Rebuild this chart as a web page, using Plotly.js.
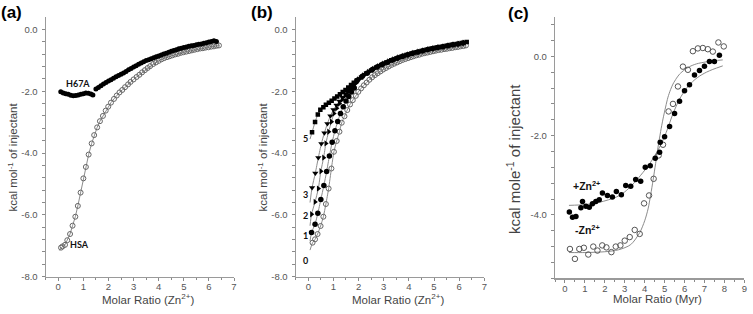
<!DOCTYPE html>
<html>
<head>
<meta charset="utf-8">
<script src="https://cdn.plot.ly/plotly-3.0.1.min.js"></script>
<style>html,body{margin:0;padding:0;background:#fff}#chart{width:753px;height:314px}</style>
</head>
<body>
<div id="chart"></div>
<script>
// ---------- Panel (a) ----------
const hsaX = [0.11,0.17,0.27,0.36,0.47,0.57,0.68,0.78,0.89,1.0,1.1,1.21,1.33,1.43,1.55,1.66,1.78,1.89,1.99,2.1,2.22,2.33,2.44,2.55,2.66,2.78,2.88,3.0,3.12,3.23,3.34,3.45,3.56,3.66,3.78,3.89,4.0,4.11,4.22,4.33,4.44,4.55,4.66,4.77,4.88,4.99,5.1,5.21,5.32,5.43,5.54,5.65,5.76,5.87,5.98,6.09,6.2,6.31,6.4];
const hsaY = [-7.06,-7.02,-6.97,-6.82,-6.62,-6.35,-6.06,-5.71,-5.28,-4.82,-4.45,-4.05,-3.69,-3.42,-3.17,-2.97,-2.8,-2.63,-2.5,-2.37,-2.25,-2.14,-2.04,-1.96,-1.87,-1.78,-1.7,-1.62,-1.54,-1.47,-1.39,-1.32,-1.25,-1.19,-1.12,-1.07,-1.02,-0.97,-0.93,-0.9,-0.87,-0.84,-0.81,-0.79,-0.76,-0.74,-0.72,-0.7,-0.68,-0.66,-0.64,-0.62,-0.61,-0.59,-0.58,-0.56,-0.55,-0.53,-0.52];
const hsaFitStart = [0.05, -7.15];
const h67X = [0.1,0.2,0.3,0.4,0.5,0.6,0.7,0.8,0.9,1.0,1.1,1.2,1.3,1.38,1.5,1.6,1.7,1.8,1.9,2.0,2.1,2.2,2.3,2.4,2.5,2.6,2.7,2.8,2.9,3.0,3.1,3.2,3.3,3.4,3.5,3.6,3.7,3.8,3.9,4.0,4.1,4.2,4.3,4.4,4.5,4.6,4.7,4.8,4.9,5.0,5.1,5.2,5.3,5.4,5.5,5.6,5.7,5.8,5.9,6.0,6.1,6.2,6.3];
const h67Y = [-2.02,-2.06,-2.08,-2.1,-2.13,-2.15,-2.14,-2.12,-2.1,-2.08,-2.06,-2.07,-2.09,-2.12,-1.93,-1.88,-1.82,-1.77,-1.72,-1.67,-1.63,-1.58,-1.53,-1.49,-1.45,-1.41,-1.36,-1.31,-1.27,-1.22,-1.18,-1.13,-1.09,-1.05,-1.01,-0.98,-0.95,-0.92,-0.89,-0.86,-0.83,-0.8,-0.77,-0.74,-0.71,-0.68,-0.66,-0.63,-0.61,-0.59,-0.57,-0.55,-0.53,-0.52,-0.5,-0.48,-0.47,-0.45,-0.43,-0.41,-0.39,-0.37,-0.39];

// ---------- Panel (b) ----------
const b0X = [0.17,0.27,0.37,0.49,0.6,0.7,0.81,0.92,1.02,1.13,1.24,1.33,1.44,1.55,1.66,1.77,1.89,1.99,2.1,2.21,2.32,2.43,2.54,2.65,2.76,2.87,2.98,3.09,3.2,3.31,3.42,3.53,3.64,3.75,3.86,3.97,4.08,4.19,4.3,4.41,4.52,4.63,4.74,4.85,4.96,5.07,5.18,5.29,5.4,5.51,5.62,5.73,5.84,5.95,6.06,6.17,6.27];
const b0Y = [-6.9,-6.79,-6.62,-6.36,-6.06,-5.65,-5.15,-4.5,-3.96,-3.61,-3.31,-3.02,-2.81,-2.61,-2.43,-2.29,-2.15,-2.02,-1.91,-1.81,-1.72,-1.63,-1.55,-1.48,-1.42,-1.36,-1.3,-1.25,-1.2,-1.15,-1.11,-1.07,-1.03,-0.99,-0.96,-0.93,-0.9,-0.87,-0.84,-0.82,-0.79,-0.77,-0.75,-0.73,-0.71,-0.69,-0.67,-0.66,-0.64,-0.63,-0.61,-0.6,-0.58,-0.57,-0.55,-0.54,-0.52];
const b1X = [0.13,0.27,0.38,0.5,0.62,0.73,0.84,0.95,1.06,1.17,1.28,1.39,1.5,1.61,1.72,1.83,1.95,2.15,2.35,2.55,2.75,2.95,3.15,3.35,3.55,3.75,3.95,4.15,4.35,4.55,4.75,4.95,5.15,5.35,5.55,5.75,5.95,6.15];
const b1Y = [-6.57,-6.3,-5.95,-5.5,-5.05,-4.6,-4.1,-3.65,-3.28,-2.98,-2.72,-2.5,-2.32,-2.17,-2.03,-1.9,-1.65,-1.52,-1.41,-1.3,-1.21,-1.13,-1.06,-0.99,-0.93,-0.87,-0.82,-0.77,-0.73,-0.69,-0.65,-0.62,-0.59,-0.56,-0.53,-0.5,-0.47,-0.44];
const b2X = [0.13,0.27,0.4,0.5,0.61,0.7,0.81,0.92,1.02,1.13,1.24,1.35,1.46,1.57,1.68,1.79,1.9,2.0,2.2,2.4,2.6,2.8,3.0,3.2,3.4,3.6,3.8,4.0,4.2,4.4,4.6,4.8,5.0,5.2,5.4,5.6,5.8,6.0,6.2];
const b2Y = [-5.98,-5.58,-5.15,-4.59,-4.15,-3.69,-3.31,-2.99,-2.72,-2.55,-2.4,-2.27,-2.15,-2.04,-1.93,-1.83,-1.74,-1.62,-1.49,-1.38,-1.28,-1.19,-1.11,-1.04,-0.97,-0.91,-0.86,-0.81,-0.76,-0.72,-0.68,-0.64,-0.61,-0.58,-0.55,-0.52,-0.49,-0.46,-0.43];
const b3X = [0.15,0.28,0.4,0.52,0.64,0.76,0.88,1.0,1.12,1.24,1.36,1.48,1.6,1.72,1.84,2.05,2.25,2.45,2.65,2.85,3.05,3.25,3.45,3.65,3.85,4.05,4.25,4.45,4.65,4.85,5.05,5.25,5.45,5.65,5.85,6.05,6.25];
const b3Y = [-5.12,-4.65,-4.15,-3.7,-3.35,-3.05,-2.8,-2.6,-2.45,-2.32,-2.2,-2.08,-1.97,-1.87,-1.77,-1.59,-1.46,-1.35,-1.25,-1.17,-1.09,-1.02,-0.96,-0.9,-0.85,-0.8,-0.75,-0.71,-0.67,-0.63,-0.6,-0.57,-0.54,-0.51,-0.48,-0.45,-0.42];
const b5X = [0.15,0.27,0.38,0.48,0.6,0.7,0.82,0.93,1.04,1.15,1.26,1.37,1.48,1.59,1.7,1.81,1.92,2.1,2.3,2.5,2.7,2.9,3.1,3.3,3.5,3.7,3.9,4.1,4.3,4.5,4.7,4.9,5.1,5.3,5.5,5.7,5.9,6.1,6.3];
const b5Y = [-3.33,-3.0,-2.75,-2.6,-2.52,-2.44,-2.37,-2.31,-2.24,-2.17,-2.1,-2.03,-1.96,-1.88,-1.8,-1.73,-1.66,-1.56,-1.43,-1.33,-1.23,-1.15,-1.07,-1.0,-0.94,-0.89,-0.83,-0.78,-0.74,-0.7,-0.66,-0.62,-0.59,-0.56,-0.53,-0.5,-0.47,-0.44,-0.41];
// start of each fitted line (below first point)
const bFitStartX = [0.07, 0.07, 0.07, 0.07, 0.07];
const bFitStartY = [-7.14, -6.85, -6.35, -5.6, -3.55];
const bLabels = ['0', '1', '2', '3', '5'];
const bLabelY = [-7.47, -6.66, -6.01, -5.34, -3.53];

// ---------- Panel (c) ----------
const cPlusX = [0.22,0.38,0.55,0.8,0.88,1.05,1.22,1.38,1.55,1.72,1.88,2.13,2.38,2.58,2.83,3.05,3.3,3.55,3.8,4.03,4.28,4.53,4.75,4.78,5.0,5.25,5.5,5.75,6.0,6.25,6.5,6.75,7.0,7.25,7.5,7.75];
const cPlusY = [-3.93,-4.06,-4.04,-3.82,-3.66,-3.78,-3.81,-3.72,-3.66,-3.62,-3.45,-3.51,-3.55,-3.41,-3.49,-3.26,-3.28,-3.11,-3.15,-2.8,-2.76,-2.57,-2.42,-2.17,-2.03,-1.77,-1.44,-1.13,-0.87,-0.72,-0.47,-0.36,-0.25,-0.13,-0.13,0.03];
const cMinusX = [0.25,0.5,0.72,0.95,1.17,1.42,1.63,1.87,2.08,2.33,2.55,2.78,3.0,3.25,3.5,3.75,3.97,4.22,4.45,4.7,4.92,5.2,5.42,5.67,5.92,6.17,6.42,6.67,6.92,7.17,7.42,7.7,7.97];
const cMinusY = [-4.86,-5.11,-4.86,-4.83,-5.0,-4.8,-4.9,-4.77,-4.82,-4.94,-4.8,-4.77,-4.65,-4.56,-4.38,-4.48,-3.71,-3.51,-3.09,-2.5,-2.23,-1.39,-1.2,-0.76,-0.26,-0.34,0.13,0.2,0.21,0.18,0.12,0.35,0.25];
const cPlusFitX = [0.2,1.0,1.75,2.58,3.0,3.42,3.8,4.25,4.75,5.08,5.42,5.75,6.08,6.4,6.75,7.1,7.42,7.92];
const cPlusFitY = [-3.76,-3.74,-3.68,-3.55,-3.42,-3.22,-3.0,-2.71,-2.29,-1.92,-1.45,-1.08,-0.82,-0.64,-0.5,-0.4,-0.33,-0.24];
const cMinusFitX = [0.2,1.0,2.0,2.7,3.3,3.75,4.0,4.17,4.3,4.42,4.55,4.67,4.8,4.92,5.05,5.17,5.3,5.42,5.6,5.75,6.0,6.25,6.6,7.08,7.5,7.92];
const cMinusFitY = [-4.95,-4.95,-4.93,-4.88,-4.75,-4.45,-4.15,-3.85,-3.5,-3.13,-2.7,-2.29,-1.9,-1.58,-1.28,-1.03,-0.84,-0.7,-0.55,-0.45,-0.34,-0.26,-0.19,-0.14,-0.11,-0.09];

// ---------- tick labels ----------
const abYTicks = [-8, -6, -4, -2, 0];
const abYText = ['-8.0', '-6.0', '-4.0', '-2.0', '0.0'];
const cYTicks = [-4, -2, 0];
const cYText = ['-4.0', '-2.0', '0.0'];

const FONT = 'Liberation Sans, Arial, sans-serif';
const TICKC = '#8a8a8a';
const LINEC = '#9a9a9a';
const tickFont = {family: FONT, size: 9.5, color: '#555'};

function bottomX(dom, range, anchor) {
  return {domain: dom, range: range, anchor: anchor, tick0: 0, dtick: 1, ticks: 'outside', ticklen: 3, tickwidth: 1, tickcolor: TICKC,
    ticklabelstandoff: -2,
    minor: {dtick: 0.5, tick0: 0, ticks: 'outside', ticklen: 2.5, tickcolor: TICKC, showgrid: false},
    showline: true, linecolor: LINEC, linewidth: 1.2, showgrid: false, zeroline: false, tickfont: tickFont, fixedrange: true};
}
function topX(dom, range, anchor, over) {
  return {domain: dom, range: range, anchor: anchor, overlaying: over, side: 'top', tick0: 0, dtick: 1, ticks: 'inside', ticklen: 3, tickcolor: TICKC,
    minor: {dtick: 0.5, tick0: 0, ticks: 'inside', ticklen: 2.5, tickcolor: TICKC, showgrid: false},
    showline: true, linecolor: LINEC, linewidth: 1.2, showgrid: false, zeroline: false, showticklabels: false, fixedrange: true};
}
function leftY(dom, range, anchor, tv, tt) {
  return {domain: dom, range: range, anchor: anchor, tickmode: 'array', tickvals: tv, ticktext: tt, ticks: 'outside', ticklen: 3, tickcolor: TICKC,
    ticklabelstandoff: 2,
    minor: {dtick: 0.4, tick0: 0, ticks: 'outside', ticklen: 2.5, tickcolor: TICKC, showgrid: false},
    showline: true, linecolor: LINEC, linewidth: 1.2, showgrid: false, zeroline: false, tickfont: tickFont, fixedrange: true};
}
function rightY(dom, range, anchor, over, tv) {
  return {domain: dom, range: range, anchor: anchor, overlaying: over, side: 'right', tickmode: 'array', tickvals: tv, ticks: 'inside', ticklen: 3, tickcolor: TICKC,
    minor: {dtick: 0.4, tick0: 0, ticks: 'inside', ticklen: 2.5, tickcolor: TICKC, showgrid: false},
    showline: true, linecolor: LINEC, linewidth: 1.2, showgrid: false, zeroline: false, showticklabels: false, fixedrange: true};
}

const W = 753, H = 314;
const dA = [45.7 / W, 234 / W], dB = [295.7 / W, 484.3 / W], dC = [555 / W, 744.3 / W];
const yAB = [1 - 276.7 / H, 1 - 17.3 / H], yC = [1 - 278.3 / H, 1 - 16.7 / H];
const rAB = [-0.5, 7], rYAB = [-8, 0.39], rC = [-0.5, 9], rYC = [-5.6, 1.0];

const GRAYL = '#8c8c8c';
const traces = [];
// (a)
traces.push({x: [hsaFitStart[0]].concat(hsaX), y: [hsaFitStart[1]].concat(hsaY), xaxis: 'x', yaxis: 'y', mode: 'lines', line: {color: GRAYL, width: 1}, hoverinfo: 'skip'});
traces.push({x: hsaX, y: hsaY, xaxis: 'x', yaxis: 'y', mode: 'markers', marker: {symbol: 'circle-open', size: 5, color: '#666', line: {width: 1, color: '#666'}}});
traces.push({x: h67X, y: h67Y, xaxis: 'x', yaxis: 'y', mode: 'markers', marker: {symbol: 'circle', size: 5, color: '#000'}});
// (b)
const bSeries = [[b0X, b0Y, 'circle-open'], [b1X, b1Y, 'circle'], [b2X, b2Y, 'triangle-right'], [b3X, b3Y, 'triangle-down'], [b5X, b5Y, 'square']];
bSeries.forEach(function (s, i) {
  traces.push({x: [bFitStartX[i]].concat(s[0]), y: [bFitStartY[i]].concat(s[1]), xaxis: 'x2', yaxis: 'y2', mode: 'lines', line: {color: GRAYL, width: 1, shape: 'spline', smoothing: 0.6}, hoverinfo: 'skip'});
});
bSeries.forEach(function (s, i) {
  const open = s[2] === 'circle-open';
  traces.push({x: s[0], y: s[1], xaxis: 'x2', yaxis: 'y2', mode: 'markers',
    marker: open ? {symbol: 'circle-open', size: 5, color: '#666', line: {width: 1, color: '#666'}} : {symbol: s[2], size: s[2] === 'square' ? 4.5 : 5.5, color: '#000'}});
});
// (c)
traces.push({x: cPlusFitX, y: cPlusFitY, xaxis: 'x3', yaxis: 'y3', mode: 'lines', line: {color: GRAYL, width: 1, shape: 'spline', smoothing: 0.8}, hoverinfo: 'skip'});
traces.push({x: cMinusFitX, y: cMinusFitY, xaxis: 'x3', yaxis: 'y3', mode: 'lines', line: {color: GRAYL, width: 1, shape: 'spline', smoothing: 0.8}, hoverinfo: 'skip'});
traces.push({x: cMinusX, y: cMinusY, xaxis: 'x3', yaxis: 'y3', mode: 'markers', marker: {symbol: 'circle-open', size: 5.5, color: '#555', line: {width: 1, color: '#555'}}});
traces.push({x: cPlusX, y: cPlusY, xaxis: 'x3', yaxis: 'y3', mode: 'markers', marker: {symbol: 'circle', size: 5.5, color: '#000'}});

function pa(text, px, py, opts) {
  return Object.assign({text: text, xref: 'paper', yref: 'paper', x: px / W, y: 1 - py / H, showarrow: false, xanchor: 'center', yanchor: 'middle'}, opts || {});
}
const titleFont = {family: FONT, size: 11.5, color: '#444'};
const lblFont = {family: 'Lato, Liberation Sans, sans-serif', size: 9, color: '#111'};
const annotations = [
  pa('<b>(a)</b>', 11, 13, {font: {family: FONT, size: 17, color: '#000'}}),
  pa('<b>(b)</b>', 262, 13, {font: {family: FONT, size: 17, color: '#000'}}),
  pa('<b>(c)</b>', 518, 14, {font: {family: FONT, size: 17, color: '#000'}}),
  pa('kcal mol<sup>-1</sup> of injectant', 12.5, 157, {textangle: -90, font: titleFont}),
  pa('kcal mol<sup>-1</sup> of injectant', 262.5, 157, {textangle: -90, font: titleFont}),
  pa('kcal mole<sup>-1</sup> of injectant', 513, 159, {textangle: -90, font: {family: FONT, size: 15, color: '#444'}}),
  pa('Molar Ratio (Zn<sup>2+</sup>)', 148, 299, {font: titleFont}),
  pa('Molar Ratio (Zn<sup>2+</sup>)', 398, 299, {font: titleFont}),
  pa('Molar Ratio (Myr)', 657, 299, {font: titleFont}),
  {text: '<b>H67A</b>', xref: 'x', yref: 'y', x: 0.77, y: -1.74, showarrow: false, font: lblFont},
  {text: '<b>HSA</b>', xref: 'x', yref: 'y', x: 0.86, y: -6.95, showarrow: false, font: lblFont},
  {text: '<b>+Zn<sup>2+</sup></b>', xref: 'x3', yref: 'y3', x: 1.07, y: -3.26, showarrow: false, font: {family: FONT, size: 10.5, color: '#111'}},
  {text: '<b>-Zn<sup>2+</sup></b>', xref: 'x3', yref: 'y3', x: 1.12, y: -4.38, showarrow: false, font: {family: FONT, size: 10.5, color: '#111'}}
];
bLabels.forEach(function (t, i) {
  annotations.push({text: '<b>' + t + '</b>', xref: 'x2', yref: 'y2', x: -0.13, y: bLabelY[i], showarrow: false, font: lblFont});
});

const layout = {
  width: W, height: H, margin: {l: 0, r: 0, t: 0, b: 0}, showlegend: false,
  paper_bgcolor: '#fff', plot_bgcolor: '#fff',
  xaxis: bottomX(dA, rAB, 'y'), yaxis: leftY(yAB, rYAB, 'x', abYTicks, abYText),
  xaxis2: bottomX(dB, rAB, 'y2'), yaxis2: leftY(yAB, rYAB, 'x2', abYTicks, abYText),
  xaxis3: bottomX(dC, rC, 'y3'), yaxis3: leftY(yC, rYC, 'x3', cYTicks, cYText),
  xaxis4: topX(dA, rAB, 'y', 'x'), yaxis4: rightY(yAB, rYAB, 'x', 'y', abYTicks),
  xaxis5: topX(dB, rAB, 'y2', 'x2'), yaxis5: rightY(yAB, rYAB, 'x2', 'y2', abYTicks),
  xaxis6: topX(dC, rC, 'y3', 'x3'), yaxis6: rightY(yC, rYC, 'x3', 'y3', cYTicks),
  annotations: annotations
};
Plotly.newPlot('chart', traces, layout, {staticPlot: true, displayModeBar: false});
</script>
</body>
</html>
